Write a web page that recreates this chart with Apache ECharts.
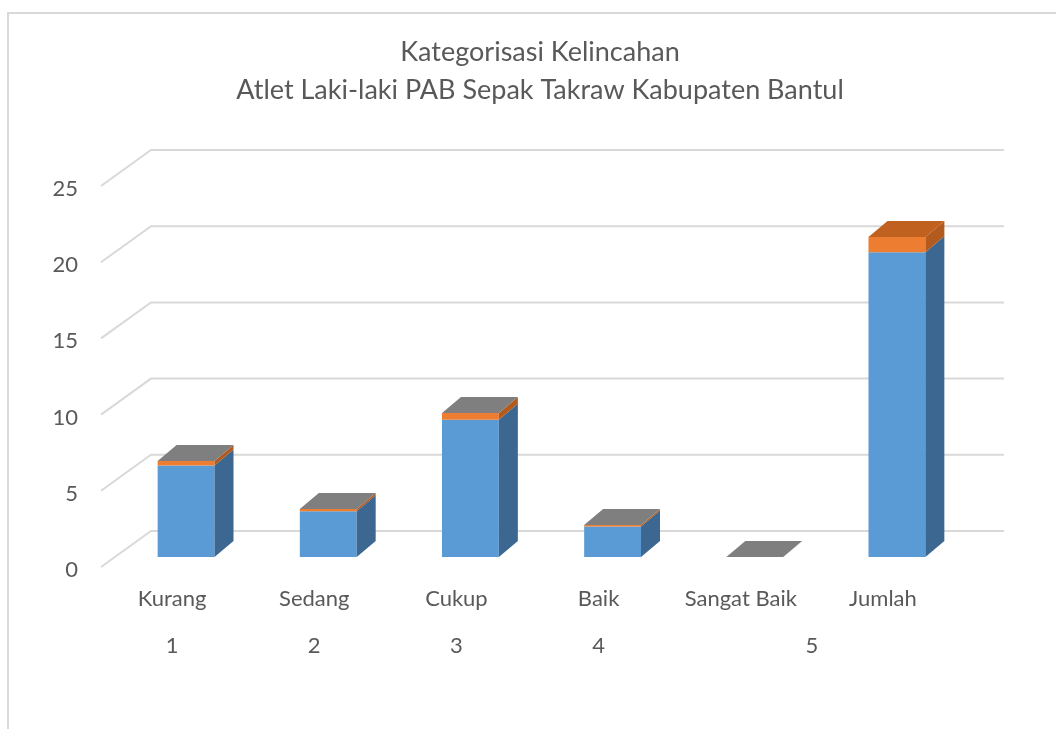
<!DOCTYPE html>
<html>
<head>
<meta charset="utf-8">
<script src="https://cdn.jsdelivr.net/npm/echarts@6/dist/echarts.min.js"></script>
<style>
  html, body { margin: 0; padding: 0; background: #fff; }
  #chart { width: 1056px; height: 729px; }
</style>
</head>
<body>
<div id="chart"></div>
<script>
// data
const categories = ['Kurang', 'Sedang', 'Cukup', 'Baik', 'Sangat Baik', 'Jumlah']
const groupLabels = ['1', '2', '3', '4', '5']
const groupSpans = [[0, 0], [1, 1], [2, 2], [3, 3], [4, 5]]
const frekuensi = [6, 3, 9, 2, 0, 20]
const persentase = [0.3, 0.15, 0.45, 0.1, 0, 1]
const seriesKosong = [0, 0, 0, 0, 0, null]
const yTicks = [0, 5, 10, 15, 20, 25]

const textColor = '#595959'
const fontFamily = 'Lato, "Open Sans", sans-serif'

// pseudo 3d look: bar depth and wall offsets
const depth = { dx: 19, dy: -16 }
const wallFront = { dx: -14, dy: 10 }
const wallBack = { dx: 36, dy: -26 }

const faces = [
  { front: '#5B9BD5', side: '#3B6791', top: '#4A80B4' },
  { front: '#ED7D31', side: '#B35A1F', top: '#C0611F' },
  { front: '#A5A5A5', side: '#7B7B7B', top: '#7F7F7F' },
]

const chart = echarts.init(document.getElementById('chart'))

const wallItem = (params, api) => {
  const v = api.value(1)
  const band = api.size([1, 0])[0]
  const left = api.coord([0, v])[0] - band / 2
  const right = api.coord([categories.length - 1, v])[0] + band / 2
  const y = api.coord([0, v])[1]
  return {
    type: 'polyline',
    shape: {
      points: [
        [left + wallFront.dx, y + wallFront.dy],
        [left + wallBack.dx, y + wallBack.dy],
        [right + wallBack.dx, y + wallBack.dy],
      ],
    },
    style: { stroke: '#d9d9d9', lineWidth: 2, fill: null },
  }
}

const barItem = (params, api) => {
  const idx = api.value(0)
  const vals = [api.value(1), api.value(2), api.value(3)]
  const band = api.size([1, 0])[0]
  const w = band * 0.4
  const cx = api.coord([idx, 0])[0]
  const x0 = cx - w / 2
  const x1 = cx + w / 2
  const children = []
  let acc = 0
  let topColor = faces[0].top
  vals.forEach((v, s) => {
    if (v === null || v === undefined || isNaN(v)) return
    const yb = api.coord([idx, acc])[1]
    acc += v
    const yt = api.coord([idx, acc])[1]
    topColor = faces[s].top
    if (yb - yt < 0.01) return
    children.push({
      type: 'rect',
      shape: { x: x0, y: yt, width: w, height: yb - yt },
      style: { fill: faces[s].front },
    })
    children.push({
      type: 'polygon',
      shape: {
        points: [
          [x1, yb], [x1 + depth.dx, yb + depth.dy],
          [x1 + depth.dx, yt + depth.dy], [x1, yt],
        ],
      },
      style: { fill: faces[s].side },
    })
  })
  const ytop = api.coord([idx, acc])[1]
  children.push({
    type: 'polygon',
    shape: {
      points: [
        [x0, ytop], [x1, ytop],
        [x1 + depth.dx, ytop + depth.dy], [x0 + depth.dx, ytop + depth.dy],
      ],
    },
    style: { fill: topColor },
  })
  return { type: 'group', children }
}

const groupItem = (params, api) => {
  const span = groupSpans[params.dataIndex]
  const xa = api.coord([span[0], 0])[0]
  const xb = api.coord([span[1], 0])[0]
  const y0 = api.coord([0, 0])[1]
  return {
    type: 'text',
    style: {
      text: groupLabels[params.dataIndex],
      x: (xa + xb) / 2 + wallFront.dx,
      y: y0 + 89,
      align: 'center',
      verticalAlign: 'middle',
      fill: textColor,
      font: '22px ' + fontFamily,
    },
  }
}

const option = {
  animation: false,
  backgroundColor: '#fff',
  graphic: [
    {
      type: 'rect',
      shape: { x: 8, y: 13, width: 1100, height: 800 },
      style: { fill: null, stroke: '#d9d9d9', lineWidth: 2 },
      silent: true,
    },
  ],
  title: {
    text: 'Kategorisasi Kelincahan\nAtlet Laki-laki PAB Sepak Takraw Kabupaten Bantul',
    left: 535,
    textAlign: 'center',
    top: 28,
    textStyle: {
      color: textColor,
      fontFamily,
      fontSize: 27,
      fontWeight: 'normal',
      lineHeight: 38,
    },
  },
  grid: {
    left: 115,
    right: 88,
    top: 176,
    bottom: 172,
  },
  xAxis: {
    type: 'category',
    data: categories,
    axisLine: { show: false },
    axisTick: { show: false },
    axisLabel: {
      color: textColor,
      fontFamily,
      fontSize: 22,
      margin: 31,
      padding: [0, 28, 0, 0],
      interval: 0,
    },
  },
  yAxis: {
    type: 'value',
    min: 0,
    max: 25,
    interval: 5,
    axisLine: { show: false },
    axisTick: { show: false },
    splitLine: { show: false },
    axisLabel: {
      color: textColor,
      fontFamily,
      fontSize: 22,
      margin: 37,
      verticalAlign: 'top',
      lineHeight: 26,
    },
  },
  series: [
    {
      type: 'custom',
      z: 1,
      silent: true,
      renderItem: wallItem,
      data: yTicks.map((v) => [0, v]),
    },
    {
      type: 'custom',
      z: 2,
      renderItem: barItem,
      data: categories.map((c, i) => [i, frekuensi[i], persentase[i], seriesKosong[i]]),
      encode: { x: 0, y: 1 },
    },
    {
      type: 'custom',
      z: 2,
      silent: true,
      renderItem: groupItem,
      data: groupLabels.map((g, i) => [groupSpans[i][0], 0]),
    },
  ],
}

chart.setOption(option)
</script>
</body>
</html>
